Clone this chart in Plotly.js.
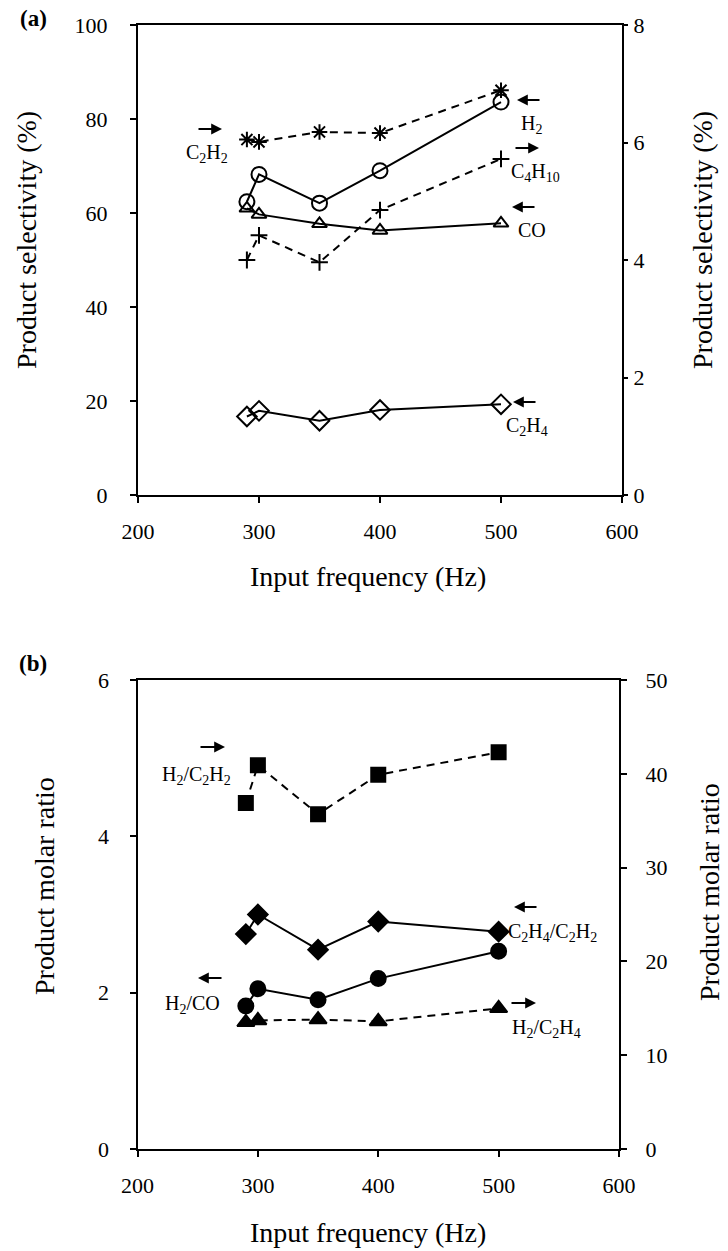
<!DOCTYPE html>
<html>
<head>
<meta charset="utf-8">
<script src="https://cdn.plot.ly/plotly-3.0.1.min.js"></script>
<style>html,body{margin:0;padding:0;background:#fff;}</style>
</head>
<body>
<div id="chart" style="width:728px;height:1251px;"></div>
<script>
// ---- data ----
var freq = [290, 300, 350, 400, 500];
// panel (a): product selectivity (%)
var selH2    = [62.4, 68.2, 62.1, 69.0, 83.6];   // left axis
var selCO    = [61.0, 59.7, 57.7, 56.3, 57.8];   // left axis
var selC2H4  = [16.7, 17.9, 15.8, 18.1, 19.3];   // left axis
var selC2H2  = [6.05, 6.01, 6.18, 6.16, 6.89];   // right axis
var selC4H10 = [4.00, 4.42, 3.96, 4.85, 5.72];   // right axis
// panel (b): product molar ratio
var ratH2C2H2   = [36.9, 40.9, 35.7, 39.9, 42.3]; // right axis
var ratC2H4C2H2 = [2.75, 3.00, 2.55, 2.91, 2.78]; // left axis
var ratH2CO     = [1.83, 2.05, 1.91, 2.18, 2.53]; // left axis
var ratH2C2H4   = [13.5, 13.7, 13.8, 13.6, 15.0]; // right axis

var xTicks = [200, 300, 400, 500, 600];
var xTitle = 'Input frequency (Hz)';
var yTitleA = 'Product selectivity (%)';
var yTitleB = 'Product molar ratio';

// ---- helpers ----
var W = 728, H = 1251;
function px(x){ return x / W; }
function py(y){ return 1 - y / H; }
var FONT = 'Liberation Serif, Times New Roman, serif';
var DASH = '8px,6px';

function tr(y, xa, ya, sym, size, dash){
  return {
    x: freq, y: y, xaxis: xa, yaxis: ya, type: 'scatter', mode: 'lines+markers',
    line: {color: '#000', width: 2, dash: dash},
    marker: {symbol: sym, size: size, color: '#000',
             line: {color: '#000', width: 2}},
    showlegend: false, hoverinfo: 'x+y'
  };
}

var data = [
  tr(selH2,   'x', 'y',  'circle-open',   15, 'solid'),
  tr(selCO,   'x', 'y',  'triangle-up-open', 13, 'solid'),
  tr(selC2H4, 'x', 'y',  'diamond-open',  15, 'solid'),
  tr(selC2H2, 'x', 'y2', 'asterisk-open', 13, DASH),
  tr(selC4H10,'x', 'y2', 'cross-thin-open', 12, DASH),
  tr(ratH2C2H2,   'x2', 'y4', 'square',      14, DASH),
  tr(ratC2H4C2H2, 'x2', 'y3', 'diamond',     15, 'solid'),
  tr(ratH2CO,     'x2', 'y3', 'circle',      15, 'solid'),
  tr(ratH2C2H4,   'x2', 'y4', 'triangle-up', 15, DASH)
];

var tickFont = {family: FONT, size: 22, color: '#000'};
function xa(dom, anchor){
  return {domain: dom, anchor: anchor, range: [200, 600], tickvals: xTicks,
    ticks: 'outside', ticklen: 6, tickwidth: 2, tickcolor: '#000',
    showline: true, linewidth: 2, linecolor: '#000', mirror: true,
    showgrid: false, zeroline: false, tickfont: tickFont, ticklabelstandoff: 10};
}
function ya(dom, anchor, range, dtick, side, overlay, ticklen, standoff){
  var o = {domain: dom, anchor: anchor, range: range, dtick: dtick, tick0: 0,
    ticks: 'outside', ticklen: ticklen, tickwidth: 2, tickcolor: '#000',
    showline: true, linewidth: 2, linecolor: '#000',
    showgrid: false, zeroline: false, tickfont: tickFont, side: side,
    ticklabelstandoff: standoff};
  if (overlay) o.overlaying = overlay;
  return o;
}

var domX_a = [px(138), px(622)];
var domX_b = [px(137.5), px(619)];
var domY_a = [py(495), py(25)];
var domY_b = [py(1149), py(680)];

var annFont = {family: FONT, size: 20, color: '#000'};
function lbl(text, x, y, xanchor){
  return {text: text, xref: 'paper', yref: 'paper', x: px(x), y: py(y),
    xanchor: xanchor || 'left', yanchor: 'middle', showarrow: false, font: annFont};
}
function arr(headX, tailX, y){
  return {text: '', xref: 'paper', yref: 'paper', x: px(headX), y: py(y),
    ax: tailX - headX, ay: 0, axref: 'pixel', ayref: 'pixel',
    showarrow: true, arrowhead: 2, arrowsize: 1.2, arrowwidth: 1.8, arrowcolor: '#000', standoff: 0};
}
var titleFont = {family: FONT, size: 28, color: '#000'};
function ttl(text, x, y, angle){
  return {text: text, xref: 'paper', yref: 'paper', x: px(x), y: py(y),
    xanchor: 'center', yanchor: 'middle', showarrow: false, textangle: angle || 0, font: titleFont};
}

var annotations = [
  // panel labels
  {text: '<b>(a)</b>', xref: 'paper', yref: 'paper', x: px(33), y: py(18), xanchor: 'center', yanchor: 'middle', showarrow: false, font: {family: FONT, size: 23, color: '#000'}},
  {text: '<b>(b)</b>', xref: 'paper', yref: 'paper', x: px(33), y: py(663), xanchor: 'center', yanchor: 'middle', showarrow: false, font: {family: FONT, size: 23, color: '#000'}},
  // axis titles
  ttl(yTitleA, 26, 240, -90),
  ttl(yTitleA, 702, 240, -90),
  ttl(xTitle, 368, 576, 0),
  ttl(yTitleB, 44, 886, -90),
  ttl(yTitleB, 709, 892, -90),
  ttl(xTitle, 368, 1232, 0),
  // panel (a) series labels
  lbl('C<sub>2</sub>H<sub>2</sub>', 184, 153),
  lbl('H<sub>2</sub>', 519, 124),
  lbl('C<sub>4</sub>H<sub>10</sub>', 509, 172),
  lbl('CO', 516, 230),
  lbl('C<sub>2</sub>H<sub>4</sub>', 504, 427),
  arr(222, 197, 129),
  arr(517, 541, 100),
  arr(539, 514, 148),
  arr(512, 536, 207),
  arr(513, 537, 402),
  // panel (b) series labels
  lbl('H<sub>2</sub>/C<sub>2</sub>H<sub>2</sub>', 160, 775),
  lbl('C<sub>2</sub>H<sub>4</sub>/C<sub>2</sub>H<sub>2</sub>', 506, 932),
  lbl('H<sub>2</sub>/CO', 163, 1004),
  lbl('H<sub>2</sub>/C<sub>2</sub>H<sub>4</sub>', 510, 1028),
  arr(225, 199, 747),
  arr(514, 538, 907),
  arr(198, 223, 978),
  arr(536, 510, 1003)
];

var layout = {
  width: W, height: H,
  margin: {l: 0, r: 0, t: 0, b: 0, pad: 0},
  paper_bgcolor: '#fff', plot_bgcolor: 'rgba(0,0,0,0)',
  font: {family: FONT, color: '#000'},
  showlegend: false,
  xaxis:  xa(domX_a, 'y'),
  xaxis2: xa(domX_b, 'y3'),
  yaxis:  ya(domY_a, 'x',  [0, 100], 20, 'left',  null, 6, 18),
  yaxis2: ya(domY_a, 'x',  [0, 8],   2,  'right', 'y',  4, 1),
  yaxis3: ya(domY_b, 'x2', [0, 6],   2,  'left',  null, 6, 16),
  yaxis4: ya(domY_b, 'x2', [0, 50],  10, 'right', 'y3', 6, 14),
  annotations: annotations
};

Plotly.newPlot('chart', data, layout, {displayModeBar: false, staticPlot: true});
</script>
</body>
</html>
